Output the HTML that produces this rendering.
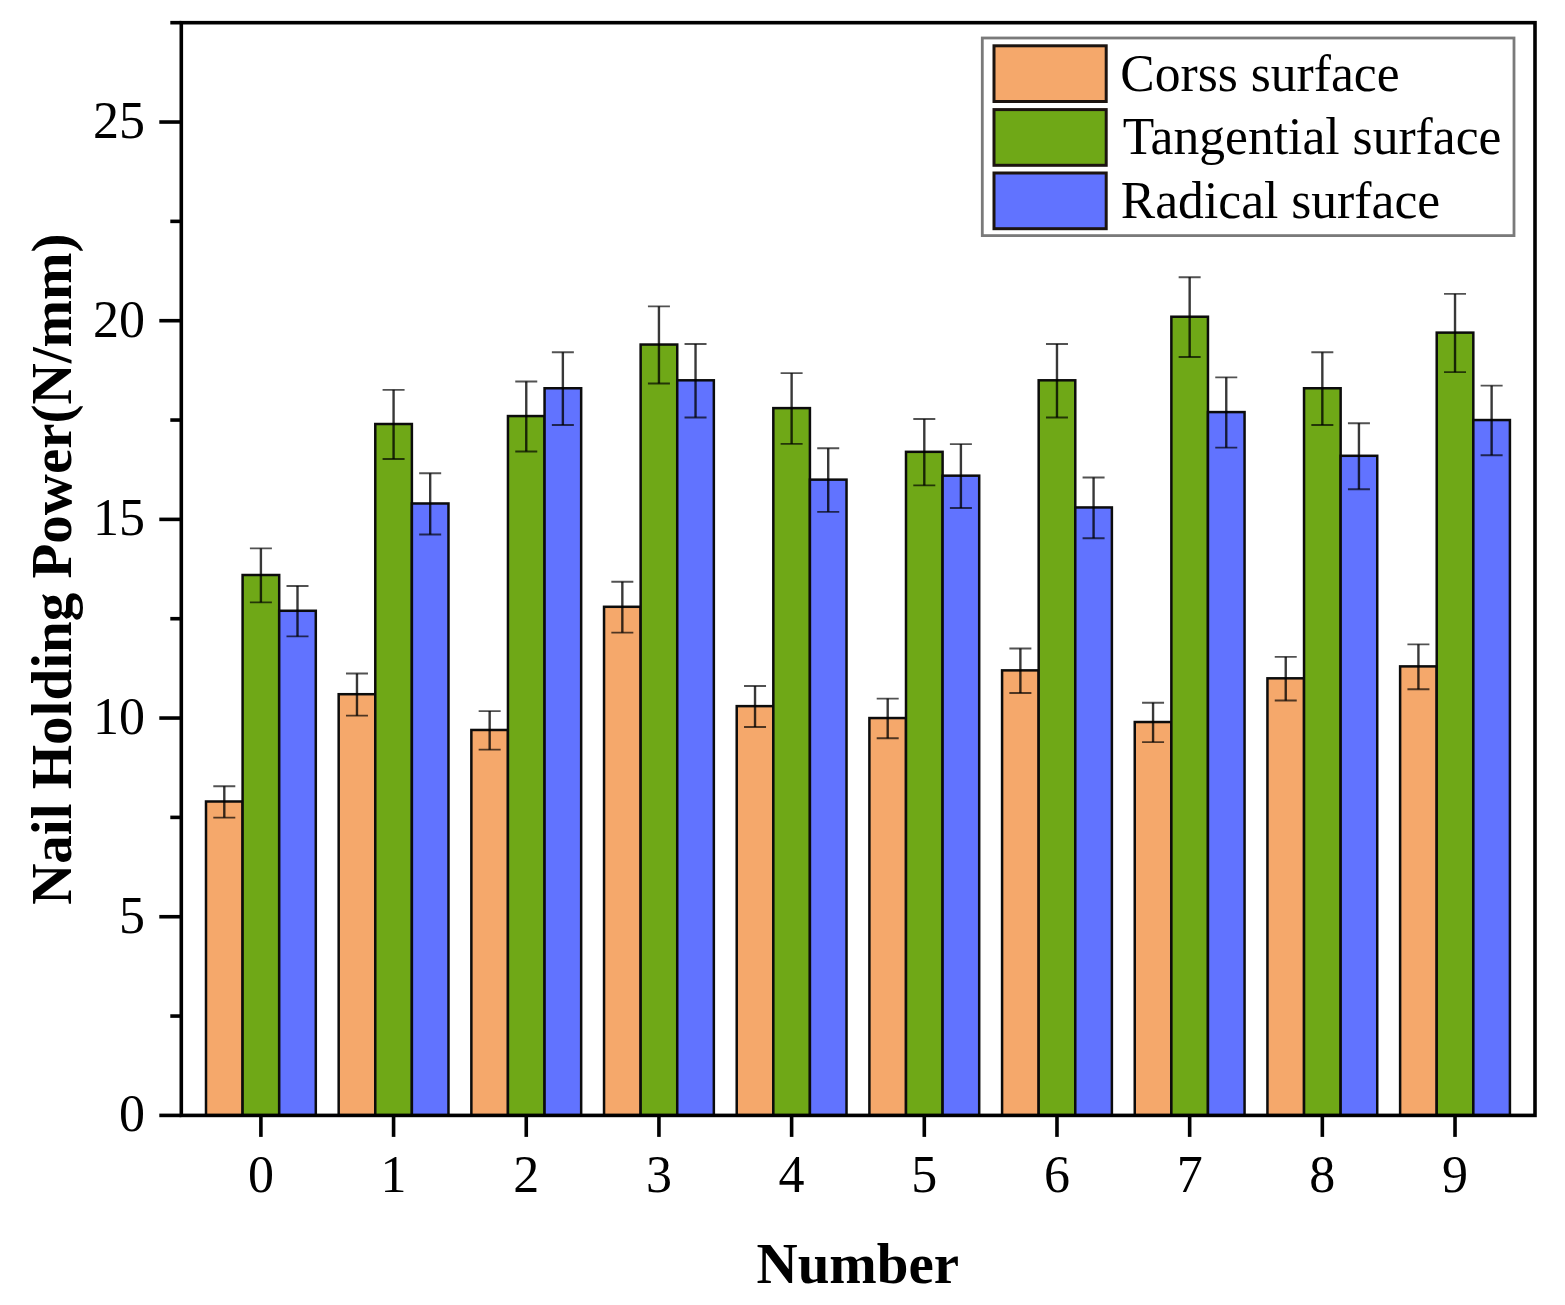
<!DOCTYPE html>
<html lang="en"><head><meta charset="utf-8"><title>Nail Holding Power</title>
<style>html,body{margin:0;padding:0;background:#fff}svg{display:block}</style></head>
<body>
<svg width="1565" height="1305" viewBox="0 0 1565 1305">
<rect width="1565" height="1305" fill="#fff"/>
<g stroke="#0c0c0c" stroke-width="2.5">
<rect x="206.00" y="801.49" width="36.60" height="313.91" fill="#F5A86B"/>
<rect x="242.60" y="575.00" width="36.60" height="540.40" fill="#6FA817"/>
<rect x="279.20" y="610.77" width="36.60" height="504.63" fill="#6173FF"/>
<rect x="338.68" y="694.21" width="36.60" height="421.19" fill="#F5A86B"/>
<rect x="375.28" y="424.01" width="36.60" height="691.39" fill="#6FA817"/>
<rect x="411.88" y="503.48" width="36.60" height="611.92" fill="#6173FF"/>
<rect x="471.36" y="729.97" width="36.60" height="385.43" fill="#F5A86B"/>
<rect x="507.96" y="416.06" width="36.60" height="699.34" fill="#6FA817"/>
<rect x="544.56" y="388.25" width="36.60" height="727.15" fill="#6173FF"/>
<rect x="604.04" y="606.79" width="36.60" height="508.61" fill="#F5A86B"/>
<rect x="640.64" y="344.54" width="36.60" height="770.86" fill="#6FA817"/>
<rect x="677.24" y="380.30" width="36.60" height="735.10" fill="#6173FF"/>
<rect x="736.72" y="706.13" width="36.60" height="409.27" fill="#F5A86B"/>
<rect x="773.32" y="408.12" width="36.60" height="707.28" fill="#6FA817"/>
<rect x="809.92" y="479.64" width="36.60" height="635.76" fill="#6173FF"/>
<rect x="869.40" y="718.05" width="36.60" height="397.35" fill="#F5A86B"/>
<rect x="906.00" y="451.83" width="36.60" height="663.57" fill="#6FA817"/>
<rect x="942.60" y="475.67" width="36.60" height="639.73" fill="#6173FF"/>
<rect x="1002.08" y="670.37" width="36.60" height="445.03" fill="#F5A86B"/>
<rect x="1038.68" y="380.30" width="36.60" height="735.10" fill="#6FA817"/>
<rect x="1075.28" y="507.45" width="36.60" height="607.95" fill="#6173FF"/>
<rect x="1134.76" y="722.02" width="36.60" height="393.38" fill="#F5A86B"/>
<rect x="1171.36" y="316.73" width="36.60" height="798.67" fill="#6FA817"/>
<rect x="1207.96" y="412.09" width="36.60" height="703.31" fill="#6173FF"/>
<rect x="1267.44" y="678.32" width="36.60" height="437.09" fill="#F5A86B"/>
<rect x="1304.04" y="388.25" width="36.60" height="727.15" fill="#6FA817"/>
<rect x="1340.64" y="455.80" width="36.60" height="659.60" fill="#6173FF"/>
<rect x="1400.12" y="666.39" width="36.60" height="449.01" fill="#F5A86B"/>
<rect x="1436.72" y="332.62" width="36.60" height="782.78" fill="#6FA817"/>
<rect x="1473.32" y="420.04" width="36.60" height="695.36" fill="#6173FF"/>
</g>
<g stroke="#000" stroke-opacity="0.68" stroke-width="1.9" fill="none" transform="translate(0 0.4)">
<path d="M224.30 785.80V817.19" stroke-width="2.4" stroke-opacity="0.78"/><path d="M213.30 785.80h22M213.30 817.19h22"/>
<path d="M260.90 547.98V602.02" stroke-width="2.4" stroke-opacity="0.78"/><path d="M249.90 547.98h22M249.90 602.02h22"/>
<path d="M297.50 585.53V636.00" stroke-width="2.4" stroke-opacity="0.78"/><path d="M286.50 585.53h22M286.50 636.00h22"/>
<path d="M356.98 673.15V715.27" stroke-width="2.4" stroke-opacity="0.78"/><path d="M345.98 673.15h22M345.98 715.27h22"/>
<path d="M393.58 389.44V458.58" stroke-width="2.4" stroke-opacity="0.78"/><path d="M382.58 389.44h22M382.58 458.58h22"/>
<path d="M430.18 472.89V534.08" stroke-width="2.4" stroke-opacity="0.78"/><path d="M419.18 472.89h22M419.18 534.08h22"/>
<path d="M489.66 710.70V749.24" stroke-width="2.4" stroke-opacity="0.78"/><path d="M478.66 710.70h22M478.66 749.24h22"/>
<path d="M526.26 381.10V451.03" stroke-width="2.4" stroke-opacity="0.78"/><path d="M515.26 381.10h22M515.26 451.03h22"/>
<path d="M562.86 351.89V424.61" stroke-width="2.4" stroke-opacity="0.78"/><path d="M551.86 351.89h22M551.86 424.61h22"/>
<path d="M622.34 581.36V632.22" stroke-width="2.4" stroke-opacity="0.78"/><path d="M611.34 581.36h22M611.34 632.22h22"/>
<path d="M658.94 306.00V383.08" stroke-width="2.4" stroke-opacity="0.78"/><path d="M647.94 306.00h22M647.94 383.08h22"/>
<path d="M695.54 343.55V417.06" stroke-width="2.4" stroke-opacity="0.78"/><path d="M684.54 343.55h22M684.54 417.06h22"/>
<path d="M755.02 685.67V726.59" stroke-width="2.4" stroke-opacity="0.78"/><path d="M744.02 685.67h22M744.02 726.59h22"/>
<path d="M791.62 372.75V443.48" stroke-width="2.4" stroke-opacity="0.78"/><path d="M780.62 372.75h22M780.62 443.48h22"/>
<path d="M828.22 447.85V511.43" stroke-width="2.4" stroke-opacity="0.78"/><path d="M817.22 447.85h22M817.22 511.43h22"/>
<path d="M887.70 698.18V737.92" stroke-width="2.4" stroke-opacity="0.78"/><path d="M876.70 698.18h22M876.70 737.92h22"/>
<path d="M924.30 418.65V485.00" stroke-width="2.4" stroke-opacity="0.78"/><path d="M913.30 418.65h22M913.30 485.00h22"/>
<path d="M960.90 443.68V507.65" stroke-width="2.4" stroke-opacity="0.78"/><path d="M949.90 443.68h22M949.90 507.65h22"/>
<path d="M1020.38 648.12V692.62" stroke-width="2.4" stroke-opacity="0.78"/><path d="M1009.38 648.12h22M1009.38 692.62h22"/>
<path d="M1056.98 343.55V417.06" stroke-width="2.4" stroke-opacity="0.78"/><path d="M1045.98 343.55h22M1045.98 417.06h22"/>
<path d="M1093.58 477.06V537.85" stroke-width="2.4" stroke-opacity="0.78"/><path d="M1082.58 477.06h22M1082.58 537.85h22"/>
<path d="M1153.06 702.35V741.69" stroke-width="2.4" stroke-opacity="0.78"/><path d="M1142.06 702.35h22M1142.06 741.69h22"/>
<path d="M1189.66 276.79V356.66" stroke-width="2.4" stroke-opacity="0.78"/><path d="M1178.66 276.79h22M1178.66 356.66h22"/>
<path d="M1226.26 376.93V447.26" stroke-width="2.4" stroke-opacity="0.78"/><path d="M1215.26 376.93h22M1215.26 447.26h22"/>
<path d="M1285.74 656.46V700.17" stroke-width="2.4" stroke-opacity="0.78"/><path d="M1274.74 656.46h22M1274.74 700.17h22"/>
<path d="M1322.34 351.89V424.61" stroke-width="2.4" stroke-opacity="0.78"/><path d="M1311.34 351.89h22M1311.34 424.61h22"/>
<path d="M1358.94 422.82V488.78" stroke-width="2.4" stroke-opacity="0.78"/><path d="M1347.94 422.82h22M1347.94 488.78h22"/>
<path d="M1418.42 643.94V688.84" stroke-width="2.4" stroke-opacity="0.78"/><path d="M1407.42 643.94h22M1407.42 688.84h22"/>
<path d="M1455.02 293.48V371.76" stroke-width="2.4" stroke-opacity="0.78"/><path d="M1444.02 293.48h22M1444.02 371.76h22"/>
<path d="M1491.62 385.27V454.81" stroke-width="2.4" stroke-opacity="0.78"/><path d="M1480.62 385.27h22M1480.62 454.81h22"/>
</g>
<g stroke="#000" stroke-width="3.6" fill="none">
<rect x="181.3" y="22.6875" width="1353.7" height="1092.7125"/>
<path d="M181.3 1115.40h-22"/>
<path d="M181.3 916.73h-22"/>
<path d="M181.3 718.05h-22"/>
<path d="M181.3 519.38h-22"/>
<path d="M181.3 320.70h-22"/>
<path d="M181.3 122.03h-22"/>
<path d="M181.3 1016.06h-11"/>
<path d="M181.3 817.39h-11"/>
<path d="M181.3 618.71h-11"/>
<path d="M181.3 420.04h-11"/>
<path d="M181.3 221.36h-11"/>
<path d="M181.3 22.69h-11"/>
<path d="M260.90 1115.4v21.5"/>
<path d="M393.58 1115.4v21.5"/>
<path d="M526.26 1115.4v21.5"/>
<path d="M658.94 1115.4v21.5"/>
<path d="M791.62 1115.4v21.5"/>
<path d="M924.30 1115.4v21.5"/>
<path d="M1056.98 1115.4v21.5"/>
<path d="M1189.66 1115.4v21.5"/>
<path d="M1322.34 1115.4v21.5"/>
<path d="M1455.02 1115.4v21.5"/>
</g>
<g font-family="Liberation Serif, Times New Roman, serif" font-size="52" fill="#000">
<text x="145" y="1131.20" text-anchor="end">0</text>
<text x="145" y="932.53" text-anchor="end">5</text>
<text x="145" y="733.85" text-anchor="end">10</text>
<text x="145" y="535.18" text-anchor="end">15</text>
<text x="145" y="336.50" text-anchor="end">20</text>
<text x="145" y="137.83" text-anchor="end">25</text>
<text x="260.90" y="1192" text-anchor="middle">0</text>
<text x="393.58" y="1192" text-anchor="middle">1</text>
<text x="526.26" y="1192" text-anchor="middle">2</text>
<text x="658.94" y="1192" text-anchor="middle">3</text>
<text x="791.62" y="1192" text-anchor="middle">4</text>
<text x="924.30" y="1192" text-anchor="middle">5</text>
<text x="1056.98" y="1192" text-anchor="middle">6</text>
<text x="1189.66" y="1192" text-anchor="middle">7</text>
<text x="1322.34" y="1192" text-anchor="middle">8</text>
<text x="1455.02" y="1192" text-anchor="middle">9</text>
</g>
<g font-family="Liberation Serif, Times New Roman, serif" font-size="57" font-weight="bold" fill="#000">
<text x="857.8" y="1282.6" text-anchor="middle">Number</text>
<text transform="translate(70.8 569.2) rotate(-90)" text-anchor="middle">Nail Holding Power(N/mm)</text>
</g>
<rect x="982.3" y="38" width="531.7" height="197.6" fill="#fff" stroke="#7a7a7a" stroke-width="2.8"/>
<g stroke="#1c1410" stroke-width="3">
<rect x="994" y="45.8" width="112.2" height="55.7" fill="#F5A86B"/>
<rect x="994" y="109.6" width="112.2" height="55.7" fill="#6FA817"/>
<rect x="994" y="173.0" width="112.2" height="55.7" fill="#6173FF"/>
</g>
<g font-family="Liberation Serif, Times New Roman, serif" font-size="53.2" fill="#000">
<text transform="translate(1120.3 90.5) scale(0.97 1)">Corss surface</text>
<text transform="translate(1122.7 154.4) scale(0.97 1)">Tangential surface</text>
<text transform="translate(1120.8 217.7) scale(0.97 1)">Radical surface</text>
</g>
</svg>
</body></html>
